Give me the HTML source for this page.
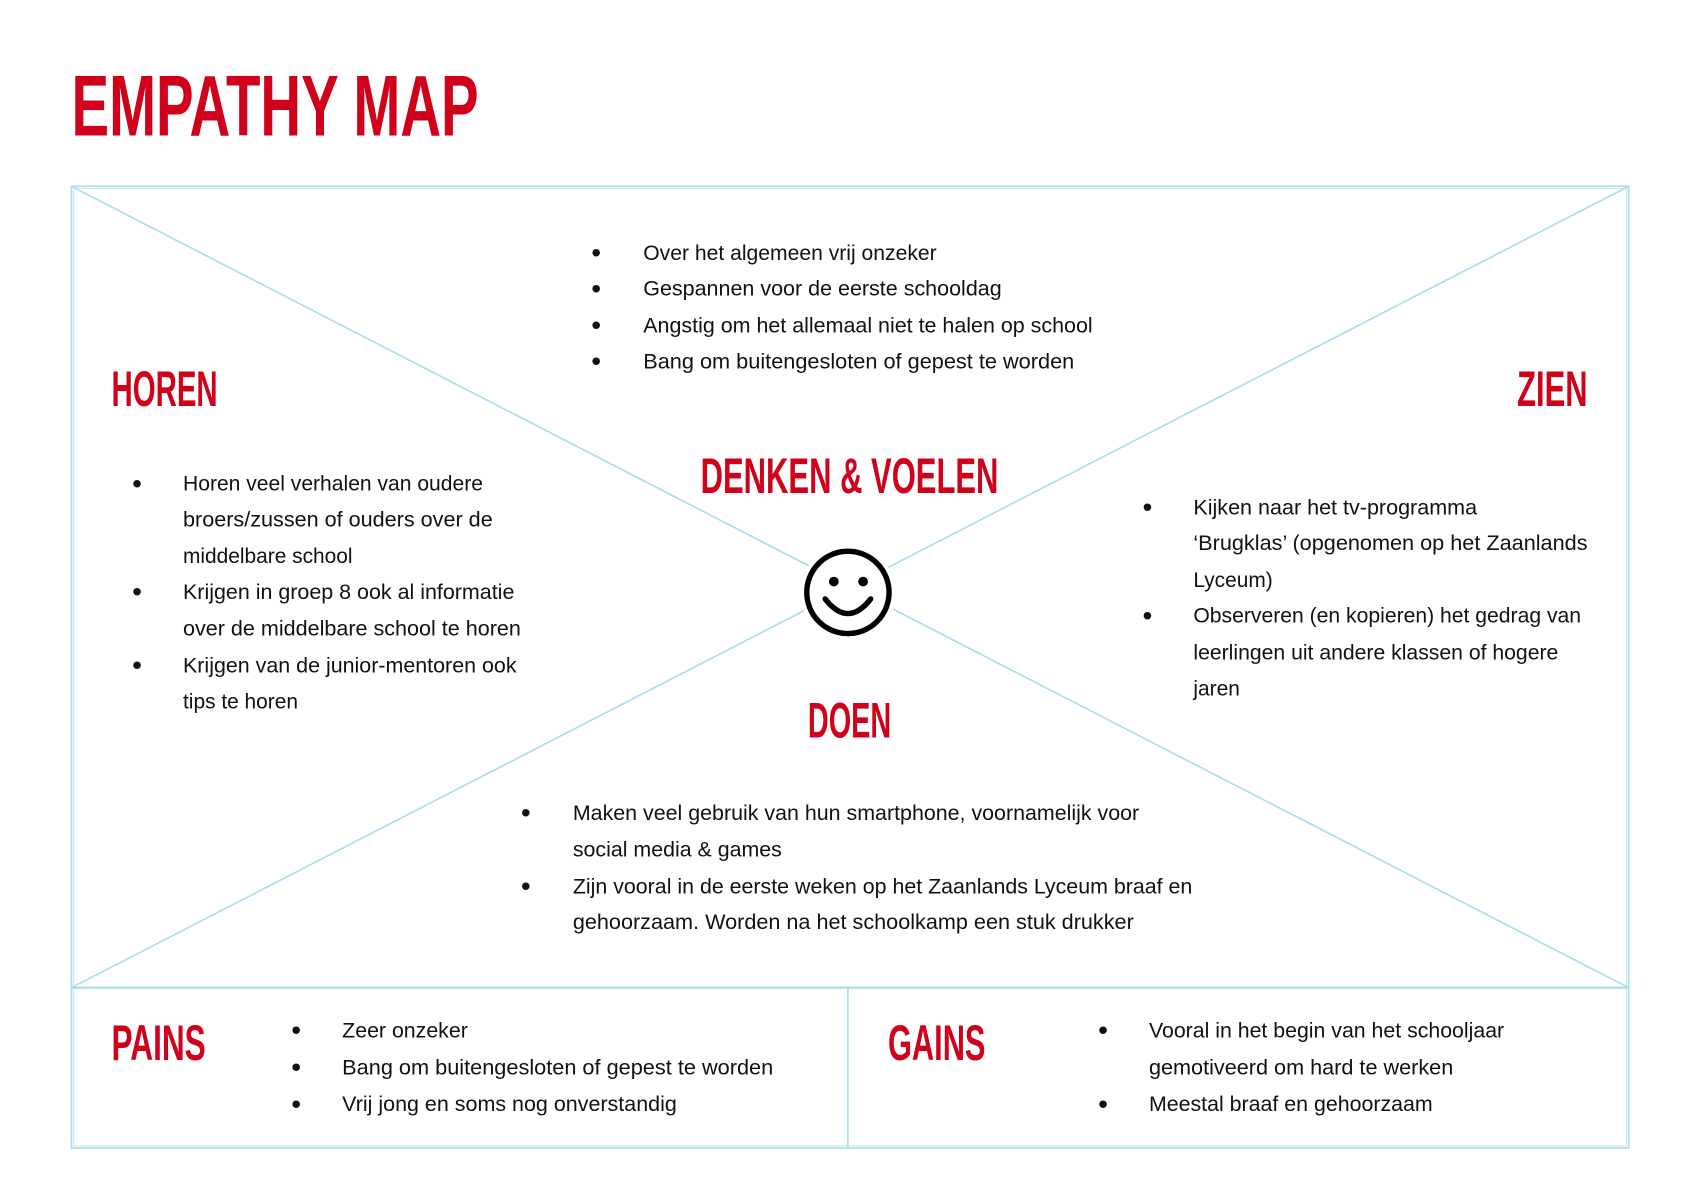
<!DOCTYPE html>
<html><head><meta charset="utf-8"><style>
html,body{margin:0;padding:0;background:#fff}
svg{display:block}
.h{font-family:"Liberation Sans Narrow","Liberation Sans",sans-serif;font-weight:bold;fill:#d0021b}
.t{font-family:"Liberation Sans",sans-serif;font-size:19.3px;fill:#111}
.b{font-size:26px}
</style></head><body>
<svg width="1698" height="1200" viewBox="0 0 1568 1108" xmlns="http://www.w3.org/2000/svg">
<rect width="1568" height="1108" fill="#fff"/>
<text class="h" x="66" y="125" font-size="80" textLength="376" lengthAdjust="spacingAndGlyphs">EMPATHY MAP</text>
<g fill="none" stroke="#a9dcec">
<rect x="66" y="172" width="1438" height="888" stroke-width="1.5"/>
<rect x="68" y="174" width="1434" height="884" stroke-width="1" stroke="#cbe9f3"/>
<line x1="66" y1="912" x2="1504" y2="912" stroke-width="2"/>
<line x1="783" y1="912" x2="783" y2="1060" stroke-width="1.5"/>
<line x1="66" y1="172" x2="1504" y2="912" stroke-width="1.5"/>
<line x1="1504" y1="172" x2="66" y2="912" stroke-width="1.5"/>
</g>
<g>
<circle cx="783" cy="547" r="44" fill="#fff"/>
<circle cx="783" cy="547" r="38" fill="#fff" stroke="#000" stroke-width="5"/>
<circle cx="770" cy="537" r="4.5" fill="#000"/>
<circle cx="797" cy="537" r="4.5" fill="#000"/>
<path d="M762 553 Q783 580 804 553" fill="none" stroke="#000" stroke-width="5" stroke-linecap="round"/>
</g>
<text class="h" x="103" y="375" font-size="46" textLength="98" lengthAdjust="spacingAndGlyphs">HOREN</text>
<text class="h" x="1401" y="375" font-size="46" textLength="65" lengthAdjust="spacingAndGlyphs">ZIEN</text>
<text class="h" x="647" y="455" font-size="46" textLength="275" lengthAdjust="spacingAndGlyphs">DENKEN &amp; VOELEN</text>
<text class="h" x="746" y="681" font-size="46" textLength="77" lengthAdjust="spacingAndGlyphs">DOEN</text>
<text class="h" x="103" y="979" font-size="46" textLength="87" lengthAdjust="spacingAndGlyphs">PAINS</text>
<text class="h" x="820" y="979" font-size="46" textLength="90" lengthAdjust="spacingAndGlyphs">GAINS</text>

<g class="t">
<text class="b" x="546" y="242">•</text><text x="594" y="240" textLength="271" lengthAdjust="spacingAndGlyphs">Over het algemeen vrij onzeker</text>
<text class="b" x="546" y="275">•</text><text x="594" y="273" textLength="331" lengthAdjust="spacingAndGlyphs">Gespannen voor de eerste schooldag</text>
<text class="b" x="546" y="309">•</text><text x="594" y="307" textLength="415" lengthAdjust="spacingAndGlyphs">Angstig om het allemaal niet te halen op school</text>
<text class="b" x="546" y="342">•</text><text x="594" y="340" textLength="398" lengthAdjust="spacingAndGlyphs">Bang om buitengesloten of gepest te worden</text>
</g>
<g class="t">
<text class="b" x="122" y="455">•</text><text x="169" y="453" textLength="277" lengthAdjust="spacingAndGlyphs">Horen veel verhalen van oudere</text>
<text x="169" y="486" textLength="286" lengthAdjust="spacingAndGlyphs">broers/zussen of ouders over de</text>
<text x="169" y="520">middelbare school</text>
<text class="b" x="122" y="555">•</text><text x="169" y="553" textLength="306" lengthAdjust="spacingAndGlyphs">Krijgen in groep 8 ook al informatie</text>
<text x="169" y="587" textLength="312" lengthAdjust="spacingAndGlyphs">over de middelbare school te horen</text>
<text class="b" x="122" y="623">•</text><text x="169" y="621" textLength="308" lengthAdjust="spacingAndGlyphs">Krijgen van de junior-mentoren ook</text>
<text x="169" y="654">tips te horen</text>
</g>
<g class="t">
<text class="b" x="1055" y="477">•</text><text x="1102" y="475" textLength="262" lengthAdjust="spacingAndGlyphs">Kijken naar het tv-programma</text>
<text x="1102" y="508" textLength="364" lengthAdjust="spacingAndGlyphs">‘Brugklas’ (opgenomen op het Zaanlands</text>
<text x="1102" y="542">Lyceum)</text>
<text class="b" x="1055" y="577">•</text><text x="1102" y="575" textLength="358" lengthAdjust="spacingAndGlyphs">Observeren (en kopieren) het gedrag van</text>
<text x="1102" y="609" textLength="337" lengthAdjust="spacingAndGlyphs">leerlingen uit andere klassen of hogere</text>
<text x="1102" y="642">jaren</text>
</g>
<g class="t">
<text class="b" x="481" y="759">•</text><text x="529" y="757" textLength="523" lengthAdjust="spacingAndGlyphs">Maken veel gebruik van hun smartphone, voornamelijk voor</text>
<text x="529" y="791" textLength="193" lengthAdjust="spacingAndGlyphs">social media &amp; games</text>
<text class="b" x="481" y="827">•</text><text x="529" y="825" textLength="572" lengthAdjust="spacingAndGlyphs">Zijn vooral in de eerste weken op het Zaanlands Lyceum braaf en</text>
<text x="529" y="858" textLength="518" lengthAdjust="spacingAndGlyphs">gehoorzaam. Worden na het schoolkamp een stuk drukker</text>
</g>
<g class="t">
<text class="b" x="269" y="960">•</text><text x="316" y="958" textLength="116" lengthAdjust="spacingAndGlyphs">Zeer onzeker</text>
<text class="b" x="269" y="994">•</text><text x="316" y="992" textLength="398" lengthAdjust="spacingAndGlyphs">Bang om buitengesloten of gepest te worden</text>
<text class="b" x="269" y="1028">•</text><text x="316" y="1026" textLength="309" lengthAdjust="spacingAndGlyphs">Vrij jong en soms nog onverstandig</text>
</g>
<g class="t">
<text class="b" x="1014" y="960">•</text><text x="1061" y="958" textLength="328" lengthAdjust="spacingAndGlyphs">Vooral in het begin van het schooljaar</text>
<text x="1061" y="992" textLength="281" lengthAdjust="spacingAndGlyphs">gemotiveerd om hard te werken</text>
<text class="b" x="1014" y="1028">•</text><text x="1061" y="1026" textLength="262" lengthAdjust="spacingAndGlyphs">Meestal braaf en gehoorzaam</text>
</g>
</svg>
</body></html>
